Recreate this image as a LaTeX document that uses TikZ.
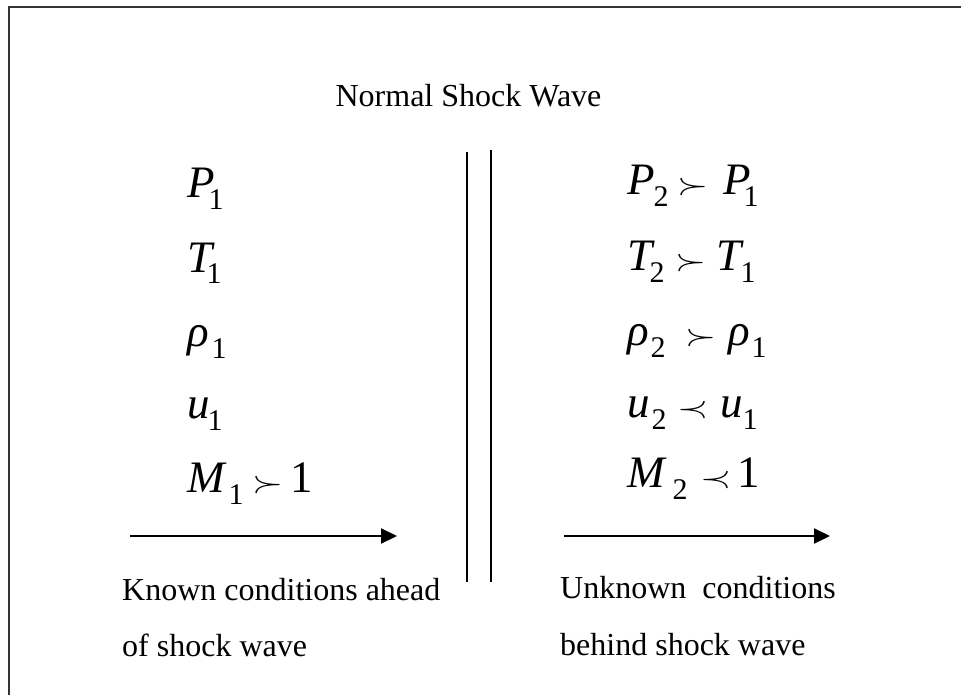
\documentclass[tikz,border=0pt]{standalone}
\usepackage{fontspec}
\setmainfont{Liberation Serif}
\newfontfamily\itf{Liberation Serif Italic}
\usetikzlibrary{arrows.meta}
\newcommand\bigsz{\fontsize{45}{50}\selectfont}
\newcommand\subsz{\fontsize{30}{32}\selectfont}
\newcommand\putat[2]{\makebox[0pt][l]{\hspace*{#1pt}#2}}
\newcommand\sbs[2]{\putat{#1}{\raisebox{-12pt}{\subsz #2}}}
\newcommand\itv[2]{\putat{#1}{\itf #2}}
\newcommand\rel[2]{\putat{#1}{\scalebox{4}[3]{\fontsize{10}{12}\selectfont$#2$}}}
\begin{document}
\begin{tikzpicture}[x=1pt,y=-1pt,
  frame/.style={line width=1.6pt,draw=black!80},
  shock/.style={line width=2.2pt},
  flow/.style={line width=2.2pt,-{Triangle[length=16pt,width=15pt]}},
  label/.style={font=\fontsize{32}{36}\selectfont,inner sep=0pt,anchor=base west},
  row/.style={font=\bigsz,inner sep=0pt,anchor=base west}]
\useasboundingbox (0,0) rectangle (961,695);
\draw[frame] (9,695) -- (9,7) -- (961,7);

\node[label,anchor=base] (title) at (468.5,107) {Normal Shock Wave};

% left column
\node[row] (l1) at (187,198) {\itv{0}{P}\sbs{21}{1}};
\node[row] (l2) at (187,272) {\itv{0}{T}\sbs{19}{1}};
\node[row] (l3) at (187,346) {\itv{0}{ρ}\sbs{24}{1}};
\node[row] (l4) at (187,418) {\itv{0}{u}\sbs{20}{1}};
\node[row] (l5) at (187,492) {\itv{0}{M}\sbs{41}{1}\rel{65}{\succ}\putat{103}{1}};

% right column
\node[row] (r1) at (627,195) {\itv{0}{P}\sbs{26}{2}\rel{50}{\succ}\itv{96}{P}\sbs{116}{1}};
\node[row] (r2) at (627,270) {\itv{0}{T}\sbs{22}{2}\rel{48}{\succ}\itv{89}{T}\sbs{113}{1}};
\node[row] (r3) at (627,345) {\itv{0}{ρ}\sbs{23}{2}\rel{58}{\succ}\itv{101}{ρ}\sbs{124}{1}};
\node[row] (r4) at (627,417) {\itv{0}{u}\sbs{24}{2}\rel{50}{\prec}\itv{93}{u}\sbs{115}{1}};
\node[row] (r5) at (627,487) {\itv{0}{M}\sbs{45}{2}\rel{73}{\prec}\putat{110}{1}};

% shock wave lines
\coordinate (s1t) at (467,152); \coordinate (s1b) at (467,582);
\coordinate (s2t) at (491,150); \coordinate (s2b) at (491,582);
\draw[shock] (s1t) -- (s1b);
\draw[shock] (s2t) -- (s2b);

% flow arrows
\coordinate (a1s) at (130,536); \coordinate (a1e) at (397,536);
\coordinate (a2s) at (564,536); \coordinate (a2e) at (830,536);
\draw[flow] (a1s) -- (a1e);
\draw[flow] (a2s) -- (a2e);

% captions
\node[label] (k1) at (122,600) {Known conditions ahead};
\node[label] (k2) at (122,656) {of shock wave};
\node[label] (u1) at (560,598) {Unknown\hspace{0.5em}conditions};
\node[label] (u2) at (560,655) {behind shock wave};
\end{tikzpicture}
\end{document}
